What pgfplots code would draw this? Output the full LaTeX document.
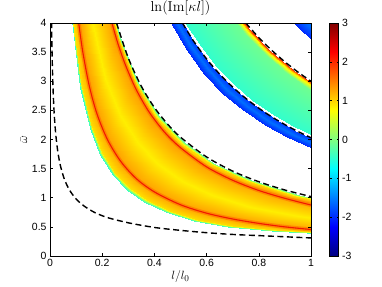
\documentclass[border=0pt]{standalone}
\usepackage[no-math]{fontspec}
\setmainfont{Liberation Sans}
\usepackage{pgfplots}
\pgfplotsset{compat=1.18}
\definecolor{ridge}{RGB}{240,25,0}
\definecolor{halo}{RGB}{255,110,0}
\begin{document}
\begin{tikzpicture}
\useasboundingbox (0,0) rectangle (382bp,287bp);
\begin{axis}[
  at={(50bp,31bp)}, anchor=south west,
  scale only axis, width=261bp, height=233bp,
  xmin=0, xmax=1, ymin=0, ymax=4,
  xtick={0,0.2,0.4,0.6,0.8,1},
  ytick={0,0.5,1,1.5,2,2.5,3,3.5,4},
  tick align=inside, major tick length=3bp,
  /pgf/number format/assume math mode=true,
  tick label style={font=\fontsize{10.5}{11}\selectfont},
  axis line style={line width=0.8bp},
  every tick/.style={line width=0.6bp, black},
  title={$\ln(\mathrm{Im}[\kappa l])$},
  title style={font=\fontsize{13.5}{14}\selectfont, yshift=-2bp},
  xlabel={$l/l_0$}, ylabel={$\bar{\omega}$},
  xlabel style={font=\fontsize{13}{14}\selectfont, yshift=3bp},
  ylabel style={font=\fontsize{13}{14}\selectfont, yshift=-2bp},
  colormap/jet, point meta min=-3, point meta max=3,
  colorbar,
  colorbar style={
    at={(parent axis.north east)}, anchor=north west, xshift=10bp,
    width=9bp, height=233bp,
    ytick={-3,-2,-1,0,1,2,3},
    tick align=inside, major tick length=2bp,
    /pgf/number format/assume math mode=true,
    yticklabel style={font=\fontsize{10.5}{11}\selectfont},
    axis line style={line width=0.6bp},
  },
  axis on top,
]
% band 1 (yellow band)
\addplot[surf, shader=interp, mesh/cols=7, point meta=explicit] table[x index=0, y index=1, meta index=2] {
0.0827 4.052 -0.45
0.0851 4.171 0.95
0.0948 4.643 1.3
0.1152 5.643 0.85
0.1370 6.714 1.3
0.1411 6.912 0.95
0.1429 7.000 -0.2
0.1158 2.894 -0.45
0.1192 2.979 0.95
0.1327 3.317 1.3
0.1612 4.031 0.85
0.1918 4.796 1.3
0.1975 4.937 0.95
0.2000 5.000 -0.2
0.1523 2.199 -0.45
0.1568 2.264 0.95
0.1746 2.521 1.3
0.2122 3.064 0.85
0.2524 3.645 1.3
0.2598 3.752 0.95
0.2632 3.800 -0.2
0.1929 1.736 -0.45
0.1986 1.787 0.95
0.2211 1.990 1.3
0.2687 2.419 0.85
0.3197 2.878 1.3
0.3291 2.962 0.95
0.3333 3.000 -0.2
0.2412 1.389 -0.45
0.2483 1.430 0.95
0.2764 1.592 1.3
0.3359 1.935 0.85
0.3997 2.302 1.3
0.4114 2.370 0.95
0.4167 2.400 -0.2
0.2968 1.129 -0.45
0.3055 1.162 0.95
0.3402 1.293 1.3
0.4134 1.572 0.85
0.4919 1.870 1.3
0.5064 1.925 0.95
0.5128 1.950 -0.2
0.3618 0.926 -0.45
0.3724 0.953 0.95
0.4146 1.061 1.3
0.5039 1.290 0.85
0.5995 1.535 1.3
0.6171 1.580 0.95
0.6250 1.600 -0.2
0.4452 0.752 -0.45
0.4583 0.775 0.95
0.5102 0.862 1.3
0.6202 1.048 0.85
0.7378 1.247 1.3
0.7595 1.284 0.95
0.7692 1.300 -0.2
0.5512 0.608 -0.45
0.5674 0.626 0.95
0.6317 0.696 1.3
0.7678 0.847 0.85
0.9135 1.007 1.3
0.9404 1.037 0.95
0.9524 1.050 -0.2
0.6810 0.500 -0.45
0.7000 0.515 0.95
0.7804 0.564 1.3
0.9485 0.685 0.85
1.1285 0.815 1.3
1.1616 0.839 0.95
1.1765 0.850 -0.2
0.8500 0.425 -0.45
0.8700 0.440 0.95
0.9750 0.470 1.3
1.1856 0.548 0.85
1.4106 0.652 1.3
1.4521 0.671 0.95
1.4706 0.680 -0.2
1.0500 0.385 -0.45
1.0800 0.400 0.95
1.2000 0.430 1.3
1.4600 0.480 0.85
1.7440 0.528 1.3
1.7950 0.543 0.95
1.8180 0.550 -0.2
};
% red ridge lines inside band 1
\addplot[halo, line width=4bp, opacity=0.6, smooth] coordinates {
(0.11,4) (0.125,3.52) (0.15,2.93) (0.18,2.44) (0.22,2.0) (0.27,1.63) (0.33,1.33)
(0.4,1.1) (0.5,0.88) (0.6,0.735) (0.7,0.635) (0.8,0.56) (0.9,0.50) (1.0,0.455)};
\addplot[ridge, line width=1.1bp, smooth] coordinates {
(0.11,4) (0.125,3.52) (0.15,2.93) (0.18,2.44) (0.22,2.0) (0.27,1.63) (0.33,1.33)
(0.4,1.1) (0.5,0.88) (0.6,0.735) (0.7,0.635) (0.8,0.56) (0.9,0.50) (1.0,0.455)};
\addplot[halo, line width=4bp, opacity=0.6, smooth] coordinates {
(0.2375,4) (0.26,3.65) (0.29,3.27) (0.33,2.86) (0.38,2.47) (0.44,2.12)
(0.5,1.86) (0.6,1.53) (0.7,1.30) (0.8,1.125) (0.9,0.99) (1.0,0.875)};
\addplot[ridge, line width=1.1bp, smooth] coordinates {
(0.2375,4) (0.26,3.65) (0.29,3.27) (0.33,2.86) (0.38,2.47) (0.44,2.12)
(0.5,1.86) (0.6,1.53) (0.7,1.30) (0.8,1.125) (0.9,0.99) (1.0,0.875)};
% blue strip
\addplot[surf, shader=interp, mesh/cols=3, point meta=explicit] table[x index=0, y index=1, meta index=2] {
0.4534 4.080 -2.0
0.4643 4.178 -1.6
0.4738 4.264 -1.9
0.5231 3.536 -2.0
0.5357 3.621 -1.6
0.5467 3.695 -1.9
0.5913 3.128 -2.0
0.6056 3.203 -1.6
0.6180 3.269 -1.9
0.6635 2.788 -2.0
0.6794 2.855 -1.6
0.6933 2.914 -1.9
0.7352 2.516 -2.0
0.7529 2.577 -1.6
0.7683 2.629 -1.9
0.8243 2.244 -2.0
0.8441 2.298 -1.6
0.8614 2.345 -1.9
0.9067 2.040 -2.0
0.9285 2.089 -1.6
0.9475 2.132 -1.9
1.0462 1.768 -2.0
1.0714 1.811 -1.6
1.0933 1.848 -1.9
};
% cyan band
\addplot[surf, shader=interp, mesh/cols=4, point meta=explicit] table[x index=0, y index=1, meta index=2] {
0.5151 4.038 -0.45
0.6029 4.727 -0.1
0.6113 4.793 0.9
0.6155 4.826 2.0
0.5769 3.606 -0.45
0.6753 4.221 -0.1
0.6847 4.279 0.9
0.6894 4.309 2.0
0.6410 3.245 -0.45
0.7503 3.798 -0.1
0.7608 3.851 0.9
0.7660 3.878 2.0
0.7035 2.957 -0.45
0.8235 3.461 -0.1
0.8350 3.509 0.9
0.8407 3.533 2.0
0.7796 2.668 -0.45
0.9125 3.123 -0.1
0.9253 3.167 0.9
0.9316 3.188 2.0
0.8484 2.452 -0.45
0.9931 2.870 -0.1
1.0069 2.910 0.9
1.0138 2.930 2.0
0.9305 2.235 -0.45
1.0892 2.617 -0.1
1.1043 2.653 0.9
1.1119 2.671 2.0
1.0301 2.019 -0.45
1.2059 2.363 -0.1
1.2226 2.396 0.9
1.2310 2.413 2.0
};
% corner blue band
\addplot[surf, shader=interp, mesh/cols=2, point meta=explicit] table[x index=0, y index=1, meta index=2] {
0.8767 4.243 -2.0
0.9204 4.455 -1.3
0.9644 3.857 -2.0
1.0124 4.050 -1.3
1.0425 3.568 -2.0
1.0945 3.746 -1.3
};
% dashed curves
\tikzset{dsh/.style={black, line width=1.4bp, dash pattern=on 6bp off 3.5bp}}
\addplot[dsh, smooth] coordinates {
(0.0055,4.18) (0.007,3.71) (0.009,3.27) (0.012,2.83) (0.016,2.45) (0.022,2.09)
(0.03,1.79) (0.04,1.55) (0.055,1.32) (0.075,1.13) (0.1,0.98) (0.13,0.86)
(0.17,0.75) (0.22,0.66) (0.3,0.57) (0.4,0.49) (0.5,0.44) (0.6,0.40)
(0.7,0.37) (0.8,0.35) (0.9,0.33) (1.0,0.31)};
\addplot[dsh, smooth] coordinates {
(0.255,4) (0.3,3.4) (0.35,2.914) (0.4,2.55) (0.45,2.267) (0.5,2.04)
(0.6,1.70) (0.7,1.457) (0.8,1.275) (0.9,1.133) (1.0,1.02)};
\addplot[dsh, smooth] coordinates {
(0.5075,4) (0.55,3.691) (0.6,3.383) (0.65,3.123) (0.7,2.9) (0.75,2.707)
(0.8,2.5375) (0.85,2.388) (0.9,2.256) (0.95,2.137) (1.0,2.03)};
\addplot[dsh, smooth] coordinates {
(0.75,4) (0.8,3.75) (0.85,3.529) (0.9,3.333) (0.95,3.158) (1.0,3.0)};
\end{axis}
\end{tikzpicture}
\end{document}
